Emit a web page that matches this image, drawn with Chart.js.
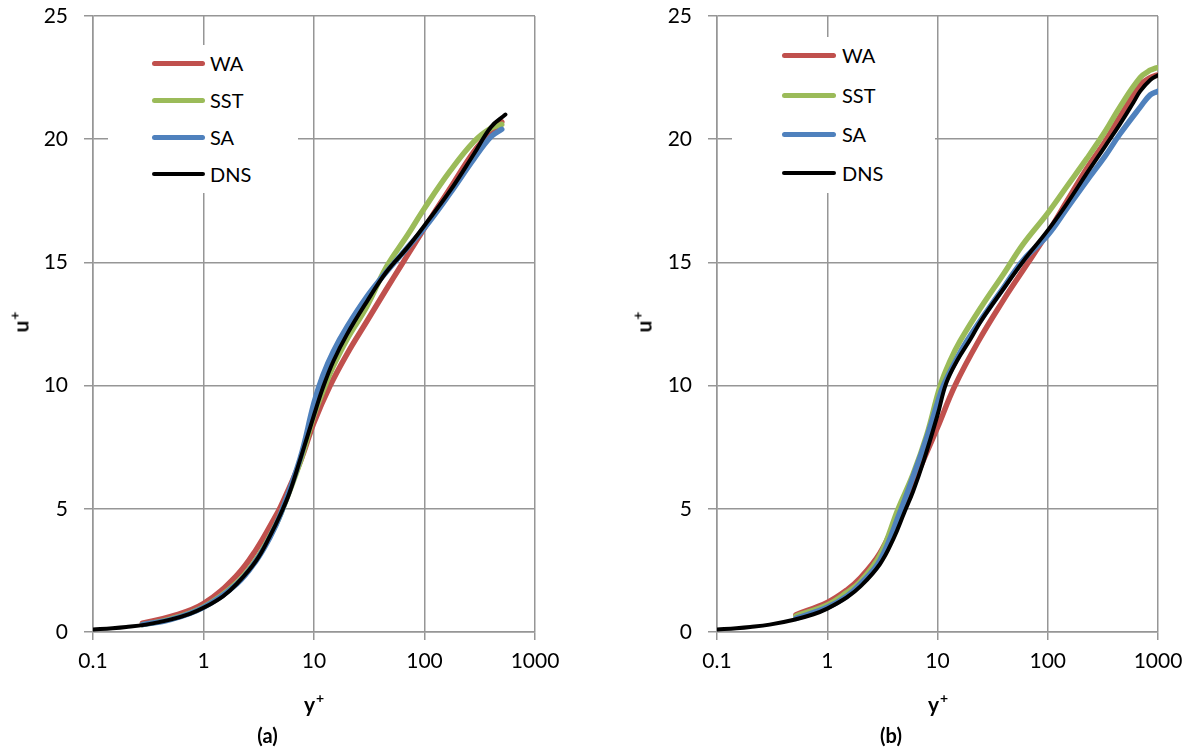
<!DOCTYPE html>
<html>
<head>
<meta charset="utf-8">
<title>u+ vs y+</title>
<script src="https://cdn.jsdelivr.net/npm/chart.js@4.4.1/dist/chart.umd.min.js"></script>
<style>
  html, body { margin: 0; padding: 0; background: #fff; }
  body { width: 1193px; height: 753px; position: relative; overflow: hidden; font-family: Lato, "Open Sans", sans-serif; }
  canvas { position: absolute; top: 0; }
  .legend { position: absolute; background: #fff; }
  .legend .swatch { position: absolute; border-radius: 3px; }
  .legend .name { position: absolute; font-size: 20px; line-height: 20px; color: #000; white-space: nowrap; }
  .axt { position: absolute; font-size: 21px; font-weight: bold; line-height: 24px; color: #000; white-space: nowrap; }
  .axt sup { font-size: 14px; position: relative; top: -1px; margin-left: 1px; }
  .axt.rot { transform: translate(-50%, -50%) rotate(-90deg); }
  .axt.hor { transform: translate(-50%, -50%); }
</style>
</head>
<body>
<canvas id="chartA" width="596" height="753" style="left:0px"></canvas>
<canvas id="chartB" width="569" height="753" style="left:624px"></canvas>
<div id="legendA" class="legend"></div>
<div id="legendB" class="legend"></div>
<div class="axt rot" style="left:18px; top:322px">u<sup>+</sup></div>
<div class="axt hor" style="left:314px; top:701px">y<sup>+</sup></div>
<div class="axt rot" style="left:641px; top:322px">u<sup>+</sup></div>
<div class="axt hor" style="left:938px; top:701px">y<sup>+</sup></div>

<script>
// axis ticks
const xTickValues = [0.1, 1, 10, 100, 1000];
const yMin = 0, yMax = 25, yStep = 5;

const seriesNames = ['WA', 'SST', 'SA', 'DNS'];
const seriesColors = ['#C0504D', '#9BBB59', '#4F81BD', '#000000'];
const seriesWidths = [5.5, 5.5, 5.5, 4];

// (a) velocity profiles
const waA_y  = [0.28, 0.5, 1, 2, 3, 4.3, 5, 7.5, 10, 14, 20, 30, 45, 60, 100, 170, 280, 400, 500];
const waA_u  = [0.36, 0.62, 1.15, 2.3, 3.35, 4.55, 5.1, 6.9, 8.5, 10.0, 11.3, 12.6, 13.9, 14.8, 16.4, 18.0, 19.5, 20.3, 20.7];
const sstA_y = [0.28, 0.5, 1, 2, 3, 4, 5, 7.5, 10, 12.6, 15, 20, 30, 45, 70, 100, 170, 280, 400, 500];
const sstA_u = [0.3, 0.52, 1.02, 2.0, 2.95, 3.9, 4.8, 6.9, 8.8, 10.0, 10.8, 11.9, 13.2, 14.8, 16.1, 17.2, 18.7, 19.9, 20.45, 20.6];
const saA_y  = [0.28, 0.5, 1, 2, 3, 4, 5, 7.5, 10, 12, 15, 20, 30, 45, 70, 100, 170, 280, 400, 500];
const saA_u  = [0.3, 0.5, 1.0, 1.95, 2.9, 3.85, 4.8, 7.05, 9.3, 10.4, 11.4, 12.4, 13.6, 14.6, 15.6, 16.4, 17.8, 19.2, 20.1, 20.4];
const dnsA_y = [0.1, 0.15, 0.2, 0.3, 0.5, 0.75, 1, 1.5, 2, 3, 4, 5, 6, 7.5, 10, 12, 15, 20, 30, 45, 70, 100, 170, 280, 400, 540];
const dnsA_u = [0.1, 0.15, 0.2, 0.3, 0.5, 0.74, 0.98, 1.45, 1.95, 2.9, 3.9, 4.8, 5.65, 7.0, 8.8, 9.9, 11.0, 12.1, 13.4, 14.6, 15.6, 16.5, 17.9, 19.4, 20.5, 21.0];

// (b) velocity profiles
const waB_y  = [0.52, 1, 1.5, 2, 3, 4.4, 6, 8, 10, 14.4, 23.5, 40, 56, 100, 150, 225, 330, 450, 690, 850, 980];
const waB_u  = [0.7, 1.2, 1.7, 2.2, 3.2, 4.7, 6.0, 7.3, 8.3, 10.0, 11.8, 13.5, 14.5, 16.2, 17.5, 18.8, 19.9, 20.9, 22.2, 22.5, 22.6];
const sstB_y = [0.52, 1, 1.5, 2, 3, 4.4, 6, 8, 10.6, 13, 16, 25, 40, 60, 100, 150, 225, 330, 450, 690, 850, 970];
const sstB_u = [0.65, 1.1, 1.6, 2.05, 3.1, 5.0, 6.4, 8.0, 10.0, 11.0, 11.8, 13.2, 14.55, 15.75, 17.0, 18.1, 19.2, 20.3, 21.3, 22.5, 22.8, 22.9];
const saB_y  = [0.52, 1, 1.5, 2, 3, 4.6, 6, 8, 10, 11.3, 15, 18.4, 25, 40, 60, 100, 150, 225, 330, 450, 690, 850, 1000];
const saB_u  = [0.55, 1.0, 1.45, 1.95, 2.9, 4.9, 6.3, 7.9, 9.3, 10.0, 11.1, 11.8, 12.7, 14.0, 15.1, 16.1, 17.2, 18.3, 19.3, 20.2, 21.3, 21.8, 21.95];
const dnsB_y = [0.1, 0.15, 0.2, 0.3, 0.5, 0.75, 1, 1.5, 2, 3, 4, 5, 6, 7.5, 10, 12, 15, 20, 25, 40, 60, 100, 150, 225, 330, 450, 600, 690, 850, 1000];
const dnsB_u = [0.1, 0.15, 0.2, 0.3, 0.5, 0.72, 0.95, 1.4, 1.85, 2.75, 3.8, 4.85, 5.7, 6.95, 8.8, 10.1, 11.0, 11.9, 12.65, 13.95, 15.05, 16.3, 17.4, 18.6, 19.7, 20.6, 21.5, 21.95, 22.4, 22.6];

const gridColor = '#969696';
const fontFamily = 'Lato, "Open Sans", sans-serif';

function toPoints(xs, us) {
    return xs.map((x, i) => ({ x: x, y: us[i] }));
}

function buildChart(canvasId, tag, cols, padRight) {
    const datasets = cols.map((c, i) => ({
        label: seriesNames[i],
        data: toPoints(c[0], c[1]),
        borderColor: seriesColors[i],
        backgroundColor: seriesColors[i],
        borderWidth: seriesWidths[i],
        borderCapStyle: 'round',
        borderJoinStyle: 'round',
        tension: 0.4,
        pointRadius: 0,
        fill: false,
        order: cols.length - 1 - i   // DNS drawn on top
    }));

    return new Chart(document.getElementById(canvasId), {
        type: 'line',
        data: { datasets: datasets },
        options: {
            responsive: false,
            animation: false,
            devicePixelRatio: 1,
            layout: { padding: { left: 0, right: padRight, top: 16, bottom: 0 } },
            plugins: {
                legend: { display: false },
                tooltip: { enabled: false },
                title: {
                    display: true,
                    text: tag,
                    position: 'bottom',
                    color: '#000',
                    font: { family: fontFamily, size: 20, weight: 'bold' },
                    padding: { top: 0, bottom: 4 }
                }
            },
            scales: {
                x: {
                    type: 'logarithmic',
                    min: xTickValues[0],
                    max: xTickValues[xTickValues.length - 1],
                    afterBuildTicks: function(scale) {
                        scale.ticks = xTickValues.map(v => ({ value: v, major: true }));
                    },
                    afterFit: function(scale) { scale.height = 93; },
                    ticks: {
                        color: '#000',
                        font: { family: fontFamily, size: 21 },
                        padding: 9,
                        maxRotation: 0,
                        autoSkip: false,
                        callback: function(value) { return String(value); }
                    },
                    grid: { color: gridColor, lineWidth: 1.5, tickLength: 8 },
                    border: { color: gridColor, width: 1.5 }
                },
                y: {
                    type: 'linear',
                    min: yMin,
                    max: yMax,
                    afterFit: function(scale) {
                        // fixed axis width; top edge set by layout padding only
                        scale.width = 93;
                        scale.paddingTop = 0;
                        scale.paddingBottom = 0;
                    },
                    ticks: {
                        stepSize: yStep,
                        color: '#000',
                        font: { family: fontFamily, size: 21 },
                        padding: 16
                    },
                    grid: { color: gridColor, lineWidth: 1.5, tickLength: 9 },
                    border: { color: gridColor, width: 1.5 }
                }
            }
        }
    });
}

// legend box with line samples, laid over the plot area
function buildLegend(id, box, rowYs, lineX0, lineX1, textX) {
    const el = document.getElementById(id);
    el.style.left = box.left + 'px';
    el.style.top = box.top + 'px';
    el.style.width = box.width + 'px';
    el.style.height = box.height + 'px';
    seriesNames.forEach((name, i) => {
        const cy = rowYs[i] - box.top;
        const sw = document.createElement('div');
        sw.className = 'swatch';
        const h = Math.round(seriesWidths[i] - 0.5);
        sw.style.left = (lineX0 - box.left) + 'px';
        sw.style.width = (lineX1 - lineX0) + 'px';
        sw.style.top = (cy - h / 2) + 'px';
        sw.style.height = h + 'px';
        sw.style.background = seriesColors[i];
        el.appendChild(sw);
        const tx = document.createElement('div');
        tx.className = 'name';
        tx.textContent = name;
        tx.style.left = (textX - box.left) + 'px';
        tx.style.top = (cy - 10) + 'px';
        el.appendChild(tx);
    });
}

buildChart('chartA', '(a)', [[waA_y, waA_u], [sstA_y, sstA_u], [saA_y, saA_u], [dnsA_y, dnsA_u]], 61);
buildChart('chartB', '(b)', [[waB_y, waB_u], [sstB_y, sstB_u], [saB_y, saB_u], [dnsB_y, dnsB_u]], 35);

buildLegend('legendA', { left: 108, top: 45, width: 190, height: 148 }, [63, 100, 137, 174], 152, 205, 210);
buildLegend('legendB', { left: 732, top: 37, width: 203, height: 156 }, [55, 95, 134, 173], 782, 836, 842);
</script>
</body>
</html>
